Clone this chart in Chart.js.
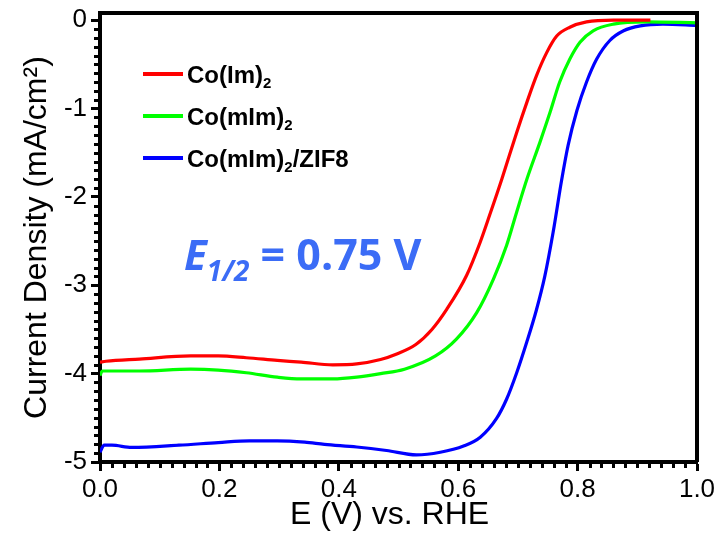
<!DOCTYPE html>
<html lang="en">
<head>
<meta charset="UTF-8">
<title>LSV curves</title>
<script src="https://cdn.jsdelivr.net/npm/chart.js@4"></script>
<style>
  body { margin: 0; background: #fff; }
  #box { width: 717px; height: 533px; }
</style>
</head>
<body>
<div id="box"><canvas id="lsvChart" width="717" height="533"></canvas></div>
<script>
// ---- values ----
const xTicks = [0, 0.2, 0.4, 0.6, 0.8, 1.0];
const yTicks = [-5, -4, -3, -2, -1, 0];

const imX = [0, 0.01, 0.066, 0.152, 0.198, 0.245, 0.297, 0.337, 0.39, 0.43, 0.47, 0.496, 0.529, 0.556, 0.581, 0.614, 0.637, 0.653, 0.673, 0.698, 0.715, 0.731, 0.748, 0.765, 0.787, 0.815, 0.86, 0.922];
const imY = [-3.87, -3.86, -3.835, -3.80, -3.80, -3.82, -3.85, -3.87, -3.90, -3.89, -3.84, -3.78, -3.67, -3.50, -3.27, -2.89, -2.51, -2.20, -1.80, -1.27, -0.93, -0.63, -0.37, -0.18, -0.08, -0.02, 0.0, 0.0];

const mimX = [0, 0.004, 0.066, 0.152, 0.198, 0.245, 0.297, 0.337, 0.39, 0.43, 0.47, 0.51, 0.562, 0.597, 0.631, 0.659, 0.681, 0.698, 0.715, 0.737, 0.754, 0.77, 0.787, 0.804, 0.826, 0.86, 0.916, 1.0];
const mimY = [-4.02, -3.97, -3.97, -3.95, -3.96, -3.99, -4.04, -4.06, -4.06, -4.04, -4.00, -3.95, -3.80, -3.61, -3.31, -2.93, -2.55, -2.17, -1.80, -1.38, -1.04, -0.70, -0.44, -0.25, -0.12, -0.045, -0.02, -0.03];

const zifX = [0, 0.007, 0.02, 0.053, 0.132, 0.198, 0.25, 0.297, 0.343, 0.376, 0.43, 0.48, 0.53, 0.57, 0.609, 0.637, 0.664, 0.681, 0.698, 0.715, 0.731, 0.745, 0.759, 0.773, 0.784, 0.799, 0.815, 0.832, 0.854, 0.877, 0.905, 0.943, 1.0];
const zifY = [-4.89, -4.81, -4.81, -4.835, -4.81, -4.78, -4.76, -4.76, -4.775, -4.80, -4.83, -4.87, -4.92, -4.89, -4.82, -4.72, -4.51, -4.29, -3.99, -3.64, -3.28, -2.90, -2.40, -1.82, -1.42, -1.02, -0.70, -0.44, -0.23, -0.12, -0.065, -0.045, -0.06];

const legendMain = ['Co(Im)', 'Co(mIm)', 'Co(mIm)'];
const legendSub = ['2', '2', '2'];
const legendTail = ['', '', '/ZIF8'];
const lineColors = ['#ff0000', '#00ff00', '#0000ff'];

const AXIS_FONT = '"Liberation Sans", Arial, sans-serif';

function pts(xs, ys) {
    return xs.map((x, i) => ({ x: x, y: ys[i] }));
}

// frame, minor ticks, legend with subscripts and the E1/2 note
const decor = {
    id: 'decor',
    afterDatasetsDraw(chart) {
        const ctx = chart.ctx;
        const a = chart.chartArea;
        ctx.save();
        ctx.strokeStyle = '#000';
        ctx.lineWidth = 4;
        ctx.beginPath();
        ctx.moveTo(a.left, a.top);
        ctx.lineTo(a.right, a.top);
        ctx.lineTo(a.right, a.bottom);
        ctx.stroke();
        ctx.restore();
    },
    afterDraw(chart) {
        const ctx = chart.ctx;
        const a = chart.chartArea;
        const sx = chart.scales.x;
        const sy = chart.scales.y;
        ctx.save();

        // minor ticks
        ctx.strokeStyle = '#000';
        ctx.lineWidth = 3;
        ctx.beginPath();
        for (let i = 0; i <= 50; i++) {
            if (i % 10 === 0) continue;
            const px = Math.round(sx.getPixelForValue(i / 50)) + 0.5;
            ctx.moveTo(px, a.bottom);
            ctx.lineTo(px, a.bottom + 6);
            const py = Math.round(sy.getPixelForValue(-5 + i / 10)) + 0.5;
            ctx.moveTo(a.left, py);
            ctx.lineTo(a.left - 6, py);
        }
        ctx.stroke();

        // legend
        for (let i = 0; i < 3; i++) {
            const rowY = a.top + 61 + i * 42;
            ctx.strokeStyle = lineColors[i];
            ctx.lineWidth = 4;
            ctx.beginPath();
            ctx.moveTo(a.left + 43, rowY);
            ctx.lineTo(a.left + 83, rowY);
            ctx.stroke();

            ctx.fillStyle = '#000';
            ctx.textBaseline = 'alphabetic';
            let x = a.left + 87;
            ctx.font = 'bold 24px ' + AXIS_FONT;
            ctx.fillText(legendMain[i], x, rowY + 8.5);
            x += ctx.measureText(legendMain[i]).width;
            ctx.font = 'bold 15px ' + AXIS_FONT;
            ctx.fillText(legendSub[i], x, rowY + 14);
            x += ctx.measureText(legendSub[i]).width;
            ctx.font = 'bold 24px ' + AXIS_FONT;
            ctx.fillText(legendTail[i], x, rowY + 8.5);
        }

        // E1/2 note
        const noteFont = '"Open Sans", "Noto Sans", sans-serif';
        ctx.fillStyle = '#3b6cf6';
        let nx = a.left + 84;
        const ny = 270;
        ctx.font = 'italic bold 42px ' + noteFont;
        ctx.fillText('E', nx, ny);
        nx += ctx.measureText('E').width;
        ctx.font = 'italic bold 28px ' + noteFont;
        ctx.fillText('1/2', nx, ny + 11);
        nx += ctx.measureText('1/2').width;
        ctx.font = 'bold 43px ' + noteFont;
        ctx.fillText(' = 0.75 V', nx, ny);

        ctx.restore();
    }
};

const ctx = document.getElementById('lsvChart').getContext('2d');
new Chart(ctx, {
    type: 'line',
    data: {
        datasets: [
            { label: 'Co(Im)2', data: pts(imX, imY), borderColor: lineColors[0] },
            { label: 'Co(mIm)2', data: pts(mimX, mimY), borderColor: lineColors[1] },
            { label: 'Co(mIm)2/ZIF8', data: pts(zifX, zifY), borderColor: lineColors[2] }
        ]
    },
    options: {
        responsive: false,
        animation: false,
        layout: { padding: { left: 0, right: 20, top: 13, bottom: 0 } },
        elements: {
            point: { radius: 0 },
            line: { borderWidth: 3.2, cubicInterpolationMode: 'monotone', fill: false }
        },
        scales: {
            x: {
                type: 'linear',
                min: 0,
                max: 1,
                afterBuildTicks: (s) => { s.ticks = xTicks.map(v => ({ value: v })); },
                afterFit: (s) => { s.height = 71; },
                ticks: {
                    color: '#000',
                    padding: 0,
                    maxRotation: 0,
                    font: { family: AXIS_FONT, size: 26, lineHeight: 1.46 },
                    callback: (v) => Number(v).toFixed(1)
                },
                grid: {
                    drawOnChartArea: false,
                    drawTicks: true,
                    tickLength: 9,
                    tickWidth: 3,
                    tickColor: '#000'
                },
                border: { display: true, color: '#000', width: 4 },
                title: {
                    display: true,
                    text: 'E (V) vs. RHE  ',
                    color: '#000',
                    padding: { top: 0, bottom: 0 },
                    font: { family: AXIS_FONT, size: 32, lineHeight: 1.1 }
                }
            },
            y: {
                type: 'linear',
                min: -5,
                max: 0.08,
                afterBuildTicks: (s) => { s.ticks = yTicks.map(v => ({ value: v })); },
                afterFit: (s) => { s.width = 100; },
                ticks: {
                    color: '#000',
                    padding: 4,
                    font: { family: AXIS_FONT, size: 26, lineHeight: 0.7 },
                    callback: (v) => String(v)
                },
                grid: {
                    drawOnChartArea: false,
                    drawTicks: true,
                    tickLength: 9,
                    tickWidth: 3,
                    tickColor: '#000'
                },
                border: { display: true, color: '#000', width: 4 },
                title: {
                    display: true,
                    text: 'Current Density (mA/cm²)',
                    color: '#000',
                    padding: { top: 18, bottom: 0 },
                    font: { family: AXIS_FONT, size: 32, lineHeight: 1.2 }
                }
            }
        },
        plugins: {
            legend: { display: false },
            tooltip: { enabled: false }
        }
    },
    plugins: [decor]
});
</script>
</body>
</html>
